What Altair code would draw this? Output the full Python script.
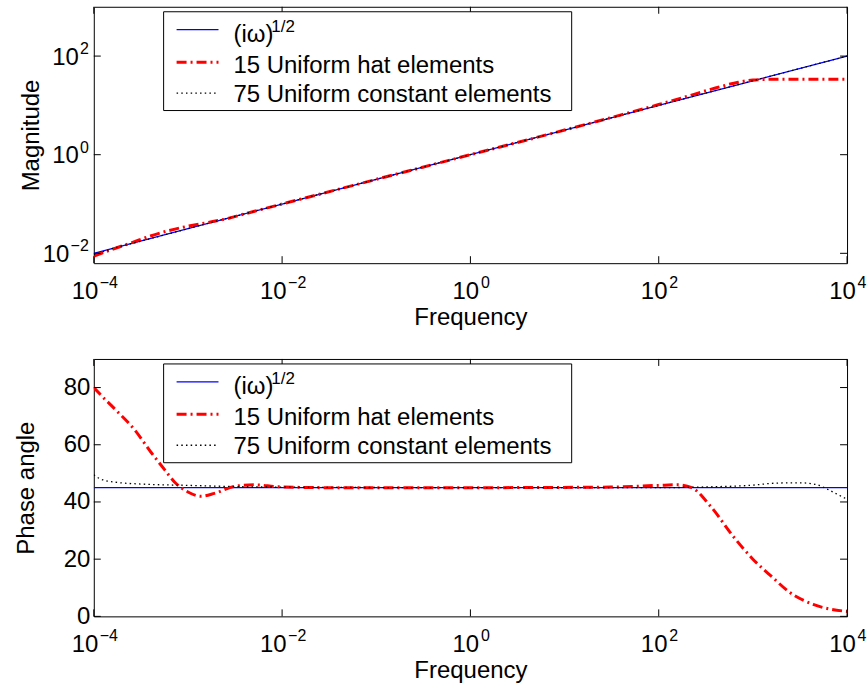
import altair as alt
import pandas as pd

FONT = "Liberation Sans"

# ---------------- data ----------------
series_names = ["(iω)", "15 Uniform hat elements", "75 Uniform constant elements"]
sqrt_exponent = "1/2"

x_tick_values = [1e-4, 1e-2, 1e0, 1e2, 1e4]
x_tick_exponents = ["−4", "−2", "0", "2", "4"]
mag_tick_values = [1e-2, 1e0, 1e2]
mag_tick_exponents = ["−2", "0", "2"]
phase_tick_values = [0, 20, 40, 60, 80]

# magnitude panel
mag_sqrt_freq = [1e-4, 1e-3, 1e-2, 1e-1, 1e0, 1e1, 1e2, 1e3, 1e4]
mag_sqrt_val = [0.01, 0.0316, 0.1, 0.316, 1.0, 3.16, 10.0, 31.6, 100.0]

mag_hat_freq = [1e-4, 1.6e-4, 2.5e-4, 4e-4, 6.3e-4, 1e-3, 1.6e-3, 2.5e-3, 4e-3,
                1e-2, 1e-1, 1e0, 1e1, 3e1, 1e2, 2e2, 4e2, 7e2, 1e3, 1.6e3, 3e3, 1e4]
mag_hat_val = [0.0087, 0.0122, 0.0163, 0.0225, 0.029, 0.0355, 0.042, 0.0495, 0.063,
               0.1, 0.316, 1.0, 3.16, 5.55, 10.4, 15.2, 22.5, 29.5, 32.8, 33.8, 34.0, 34.0]

mag_const_freq = [1e-4, 1.5e-4, 3e-4, 1e-3, 1e-2, 1e-1, 1e0, 1e1, 1e2, 1e3, 1e4]
mag_const_val = [0.0093, 0.0121, 0.0172, 0.0316, 0.1, 0.316, 1.0, 3.16, 10.0, 31.6, 100.0]

# phase panel
ph_sqrt_freq = [1e-4, 1e4]
ph_sqrt_val = [45.0, 45.0]

ph_hat_freq = [1e-4, 1.22e-4, 1.82e-4, 2.69e-4, 4.07e-4, 5.62e-4, 7.24e-4, 1e-3, 1.38e-3,
               1.91e-3, 3.16e-3, 5.13e-3, 9.12e-3, 3.16e-2, 1e0, 31.6, 100, 158, 224,
               355, 617, 1000, 1622, 2455, 4365, 1e4]
ph_hat_val = [80, 77, 71.3, 65.4, 57.3, 51.4, 46.9, 43.5, 42.0,
              43.0, 45.5, 46.0, 45.3, 45.0, 45.0, 45.2, 45.8, 46.0, 45.0,
              38.5, 28.0, 20.0, 13.6, 8.4, 4.2, 1.7]

ph_const_freq = [1e-4, 1.15e-4, 1.32e-4, 1.8e-4, 3e-4, 1e-3, 3e-3, 1e-2, 1e-1, 1e0, 1e2,
                 355, 930, 1800, 3200, 4800, 6600, 8300, 1e4]
ph_const_val = [49.5, 48.2, 47.5, 46.8, 46.3, 45.8, 45.4, 45.2, 45.05, 45.0, 45.0,
                45.3, 45.8, 46.6, 46.7, 46.0, 44.0, 42.3, 41.0]

# ---------------- layout constants ----------------
W = 755
H1 = 257
H2 = 258
FS = 24
FS_EXP = 16

styles = [
    dict(color="#0000ff", strokeWidth=1.3),
    dict(color="#ff0000", strokeWidth=3, strokeDash=[10, 4, 2, 4]),
    dict(color="#000000", strokeWidth=1.3, strokeDash=[1.5, 3.2]),
]

xscale = alt.Scale(type="log", domain=[1e-4, 1e4], nice=False)


def x_axis():
    return alt.Axis(
        values=x_tick_values, labels=False,
        ticks=False, tickSize=0, domain=False, grid=False,
        title="Frequency", titleFont=FONT, titleFontSize=FS, titleFontWeight="normal",
        titleColor="black", titleBaseline="alphabetic", titleX=W / 2, titleY=61,
    )


def y_axis(values, title, tx, h, show_labels):
    return alt.Axis(
        values=values, labels=show_labels,
        labelFont=FONT, labelFontSize=FS, labelColor="black", labelPadding=4,
        labelFlush=False, labelOverlap=False,
        ticks=False, tickSize=0, domain=False, grid=False,
        title=title, titleFont=FONT, titleFontSize=FS, titleFontWeight="normal",
        titleColor="black", titleAngle=270, titleBaseline="alphabetic",
        titleX=tx, titleY=h / 2, titleAlign="center",
    )


def split_neg(values, exps, field):
    df = pd.DataFrame({field: values, "e": exps})
    neg = df[df["e"].str.startswith("−")]
    pos = df[~df["e"].str.startswith("−")]
    return neg, pos


def panel(data, yscale, yvals, yexps, ytitle, tx, h):
    layers = []
    one = pd.DataFrame({"a": [1]})
    xax = x_axis()
    yax = y_axis(yvals, ytitle, tx, h, yexps is None)
    X = lambda: alt.X("f:Q", scale=xscale, axis=xax, title="Frequency")
    Y = lambda: alt.Y("v:Q", scale=yscale, axis=yax, title=ytitle)
    # series
    for i, (freq, val) in enumerate(data):
        df = pd.DataFrame({"f": freq, "v": val})
        interp = "linear" if i == 0 else "monotone"
        layers.append(alt.Chart(df).mark_line(clip=True, interpolate=interp, **styles[i]).encode(
            x=X(), y=Y()))
    # inward ticks on all four sides
    xt = pd.DataFrame({"f": x_tick_values})
    yt = pd.DataFrame({"v": yvals})
    for y0, y1 in [(0, 7), (h - 7, h)]:
        layers.append(alt.Chart(xt).mark_rule(color="black", strokeWidth=1).encode(
            x=X(), y=alt.value(y0), y2=alt.value(y1)))
    for x0, x1 in [(0, 7), (W - 7, W)]:
        layers.append(alt.Chart(yt).mark_rule(color="black", strokeWidth=1).encode(
            y=Y(), x=alt.value(x0), x2=alt.value(x1)))
    # x tick labels: "10" with a raised exponent, centred on the tick
    neg, pos = split_neg(x_tick_values, x_tick_exponents, "f")
    for sub, d10, dexp in [(neg, 4.5, 6), (pos, 8.8, 10.5)]:
        layers.append(alt.Chart(sub).mark_text(align="right", baseline="alphabetic", font=FONT,
                                               fontSize=FS, color="black", dx=d10).encode(
            x=X(), y=alt.value(h + 36), text=alt.value("10")))
        layers.append(alt.Chart(sub).mark_text(align="left", baseline="alphabetic", font=FONT,
                                               fontSize=FS_EXP, color="black", dx=dexp).encode(
            x=X(), y=alt.value(h + 25), text="e:N"))
    # y tick labels with exponents (log panel)
    if yexps is not None:
        neg, pos = split_neg(yvals, yexps, "v")
        for sub, d10 in [(neg, -24.5), (pos, -15)]:
            layers.append(alt.Chart(sub).mark_text(align="right", baseline="alphabetic", font=FONT,
                                                   fontSize=FS, color="black", dx=d10, dy=8.5).encode(
                y=Y(), x=alt.value(0), text=alt.value("10")))
            layers.append(alt.Chart(sub).mark_text(align="right", baseline="alphabetic", font=FONT,
                                                   fontSize=FS_EXP, color="black", dx=-5, dy=-2).encode(
                y=Y(), x=alt.value(0), text="e:N"))
    # legend
    layers.append(alt.Chart(one).mark_rect(fill="white", stroke="black", strokeWidth=1).encode(
        x=alt.value(70), x2=alt.value(479), y=alt.value(5), y2=alt.value(104)))
    sample_y = [23, 55.5, 86.5]
    text_y = [35, 66.3, 95.3]
    for i in range(3):
        layers.append(alt.Chart(one).mark_rule(**styles[i]).encode(
            x=alt.value(83), x2=alt.value(125), y=alt.value(sample_y[i])))
        layers.append(alt.Chart(one).mark_text(align="left", baseline="alphabetic", font=FONT,
                                               fontSize=FS, color="black").encode(
            x=alt.value(140), y=alt.value(text_y[i]), text=alt.value(series_names[i])))
    layers.append(alt.Chart(one).mark_text(align="left", baseline="alphabetic", font=FONT,
                                           fontSize=17, color="black").encode(
        x=alt.value(178), y=alt.value(25.5), text=alt.value(sqrt_exponent)))
    return alt.layer(*layers).properties(width=W, height=h)


top = panel(
    [(mag_sqrt_freq, mag_sqrt_val), (mag_hat_freq, mag_hat_val), (mag_const_freq, mag_const_val)],
    alt.Scale(type="log", domain=[10 ** -2.2, 1000], nice=False),
    mag_tick_values, mag_tick_exponents, "Magnitude", -55, H1)

bottom = panel(
    [(ph_sqrt_freq, ph_sqrt_val), (ph_hat_freq, ph_hat_val), (ph_const_freq, ph_const_val)],
    alt.Scale(type="linear", domain=[0, 90], nice=False, zero=False),
    phase_tick_values, None, "Phase angle", -60, H2)

chart = alt.vconcat(top, bottom, spacing=28).properties(
    padding={"left": 14, "top": 5, "right": 0, "bottom": 0},
    background="white",
).configure_view(stroke="black", strokeWidth=1)

chart.save("out.html", embed_options={"renderer": "svg", "actions": False})
